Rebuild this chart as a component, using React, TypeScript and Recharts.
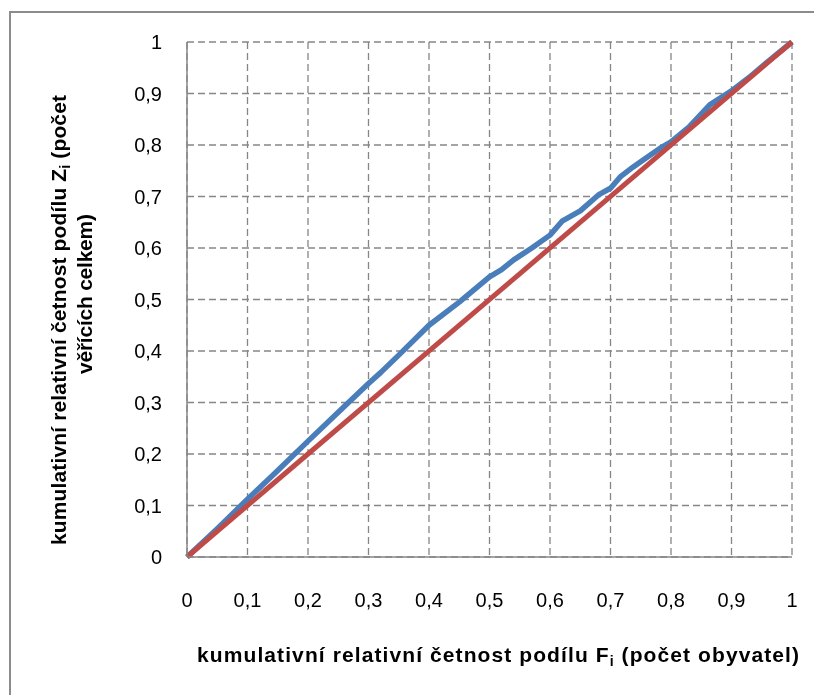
import React from 'react';
import { LineChart, Line, XAxis, YAxis, CartesianGrid, Label } from 'recharts';

// podíl obyvatel (F) a podíl věřících (Z)
const shareF = [
  0, 0.05, 0.1, 0.15, 0.2, 0.25, 0.3, 0.32, 0.35, 0.4, 0.45, 0.5, 0.52, 0.54, 0.57, 0.6,
  0.62, 0.65, 0.68, 0.7, 0.716, 0.737, 0.754, 0.785, 0.8, 0.83, 0.864, 0.9, 0.93, 0.96, 1,
];
const shareZ = [
  0, 0.055, 0.112, 0.168, 0.225, 0.281, 0.337, 0.358, 0.392, 0.45, 0.495, 0.544, 0.558, 0.577, 0.6, 0.625,
  0.652, 0.672, 0.703, 0.716, 0.738, 0.757, 0.771, 0.796, 0.806, 0.835, 0.878, 0.905, 0.932, 0.962, 1,
];
const equalityF = [0, 1];
const equalityZ = [0, 1];
const axisTicks = [0, 0.1, 0.2, 0.3, 0.4, 0.5, 0.6, 0.7, 0.8, 0.9, 1];

const lorenzData = shareF.map((f, i) => ({ f, z: shareZ[i] }));
const equalityData = equalityF.map((f, i) => ({ f, z: equalityZ[i] }));

const FONT = '"Liberation Sans", Arial, sans-serif';
const GRAY = '#868686';

const fmt = (v: number) => String(v).replace('.', ',');

function XTitle() {
  return (
    <text
      x={490}
      y={654}
      textAnchor="middle"
      fontFamily={FONT}
      fontSize={21}
      fontWeight="bold"
      fill="#000"
      textLength={602}
      lengthAdjust="spacing"
    >
      kumulativní relativní četnost podílu F
      <tspan fontSize={14} dy={4}>i</tspan>
      <tspan dy={-4}> (počet obyvatel)</tspan>
    </text>
  );
}

function YTitle() {
  return (
    <g fontFamily={FONT} fontSize={21} fontWeight="bold" fill="#000">
      <text
        transform="translate(58 312) rotate(-90)"
        textAnchor="middle"
        textLength={450}
        lengthAdjust="spacing"
      >
        kumulativní relativní četnost podílu Z
        <tspan fontSize={14} dy={4}>i</tspan>
        <tspan dy={-4}> (počet</tspan>
      </text>
      <text transform="translate(84 286) rotate(-90)" textAnchor="middle" textLength={160} lengthAdjust="spacing">
        věřících celkem)
      </text>
    </g>
  );
}

export default function App() {
  return (
    <div style={{ position: 'relative', width: 798, height: 679 }}>
      <div
        style={{
          position: 'fixed',
          left: 9,
          top: 11,
          width: 900,
          height: 900,
          border: '2px solid #8c8c8c',
          pointerEvents: 'none',
        }}
      />
      <LineChart width={798} height={679} margin={{ top: 34, right: 14, left: 0, bottom: 0 }}>
        <CartesianGrid stroke={GRAY} strokeWidth={1.3} strokeDasharray="7 4" />
        <XAxis
          type="number"
          dataKey="f"
          domain={[0, 1]}
          ticks={axisTicks}
          tickFormatter={fmt}
          height={130}
          tickLine={false}
          tickSize={0}
          tickMargin={36}
          axisLine={{ stroke: GRAY, strokeWidth: 1.5 }}
          tick={{ fontFamily: FONT, fontSize: 20, fill: '#000' }}
        >
          <Label content={() => <XTitle />} />
        </XAxis>
        <YAxis
          type="number"
          dataKey="z"
          domain={[0, 1]}
          ticks={axisTicks}
          tickFormatter={fmt}
          width={179}
          tickLine={false}
          tickSize={0}
          tickMargin={25}
          axisLine={{ stroke: GRAY, strokeWidth: 1.5 }}
          tick={{ fontFamily: FONT, fontSize: 20, fill: '#000' }}
        >
          <Label content={() => <YTitle />} />
        </YAxis>
        <Line
          data={lorenzData}
          dataKey="z"
          type="linear"
          stroke="#4a7ebb"
          strokeWidth={5.5}
          strokeLinejoin="round"
          dot={false}
          isAnimationActive={false}
        />
        <Line
          data={equalityData}
          dataKey="z"
          type="linear"
          stroke="#be4b48"
          strokeWidth={5}
          dot={false}
          isAnimationActive={false}
        />
      </LineChart>
    </div>
  );
}
